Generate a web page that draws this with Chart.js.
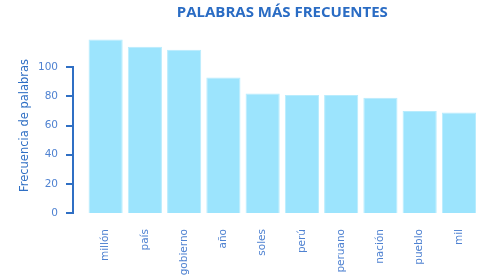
<!DOCTYPE html>
<html>
<head>
<meta charset="utf-8">
<script src="https://cdn.jsdelivr.net/npm/chart.js@4/dist/chart.umd.min.js"></script>
<style>
html,body{margin:0;padding:0;background:#fff;}
#wrap{width:488px;height:279px;}
</style>
</head>
<body>
<div id="wrap"><canvas id="c" width="488" height="279"></canvas></div>
<script>
const categories = ['millón','país','gobierno','año','soles','perú','peruano','nación','pueblo','mil'];
const frequencies = [119, 114, 112, 93, 82, 81, 81, 79, 70, 69];
const yTicks = [0, 20, 40, 60, 80, 100];

const BLUE = '#2f6fc4';
const TICKBLUE = '#4f82d1';

const axisPlugin = {
  id: 'axisLine',
  afterDraw(chart) {
    const y = chart.scales.y;
    const ctx = chart.ctx;
    const x0 = chart.chartArea.left - 13;
    ctx.save();
    ctx.strokeStyle = BLUE;
    ctx.lineWidth = 2;
    ctx.beginPath();
    ctx.moveTo(x0, y.getPixelForValue(yTicks[0]) + 1);
    ctx.lineTo(x0, y.getPixelForValue(yTicks[yTicks.length - 1]) - 1);
    ctx.stroke();
    yTicks.forEach(v => {
      const py = Math.round(y.getPixelForValue(v));
      ctx.beginPath();
      ctx.moveTo(x0 - 7, py);
      ctx.lineTo(x0 + 1, py);
      ctx.stroke();
    });
    ctx.restore();
  }
};

new Chart(document.getElementById('c'), {
  type: 'bar',
  data: {
    labels: categories,
    datasets: [{
      data: frequencies,
      backgroundColor: '#9ce4fd',
      borderColor: '#b8ecfd',
      borderWidth: 1,
      barPercentage: 0.87,
      categoryPercentage: 1
    }]
  },
  options: {
    responsive: false,
    animation: false,
    devicePixelRatio: 1,
    layout: { padding: { left: 0, right: 5, top: 0, bottom: 0 } },
    plugins: {
      legend: { display: false },
      tooltip: { enabled: false },
      title: {
        display: true,
        text: 'PALABRAS MÁS FRECUENTES',
        fullSize: false,
        color: '#2a6cc4',
        font: { family: 'Open Sans', size: 15, weight: 'bold' },
        padding: { top: 4, bottom: 16 }
      }
    },
    scales: {
      x: {
        grid: { display: false, drawTicks: false },
        border: { display: false },
        ticks: {
          color: TICKBLUE,
          font: { family: 'DejaVu Sans', size: 10.5 },
          minRotation: 90,
          maxRotation: 90,
          padding: 16,
          autoSkip: false
        },
        afterFit(scale) { scale.height = 66; }
      },
      y: {
        min: 0,
        max: 120,
        grid: { display: false, drawTicks: false },
        border: { display: false },
        afterBuildTicks(scale) {
          scale.ticks = yTicks.map(v => ({ value: v }));
        },
        ticks: {
          color: TICKBLUE,
          font: { family: 'DejaVu Sans', size: 10.5 },
          padding: 28
        },
        title: {
          display: true,
          text: 'Frecuencia de palabras',
          color: BLUE,
          font: { family: 'DejaVu Sans', size: 11.5 },
          padding: { top: 18, bottom: 0 }
        },
        afterFit(scale) { scale.width = 86; }
      }
    }
  },
  plugins: [axisPlugin]
});
</script>
</body>
</html>
